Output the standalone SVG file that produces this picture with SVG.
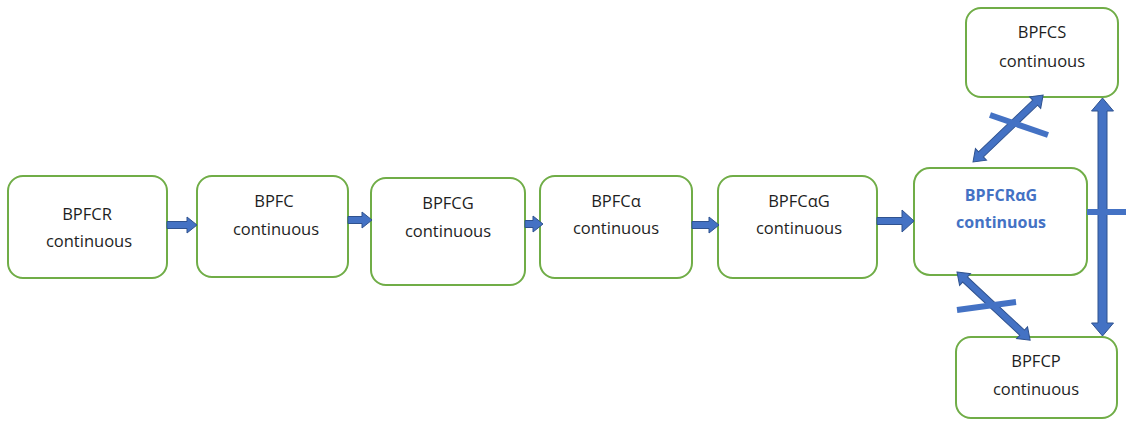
<svg xmlns="http://www.w3.org/2000/svg" width="1126" height="421" viewBox="0 0 1126 421">
<style>
.box{fill:#fff;stroke:#70AD47;stroke-width:2}
.t{font-family:"Open Sans","Liberation Sans",sans-serif;font-size:16.5px;fill:#1e1e1e;text-anchor:middle}
.tb{font-family:"Open Sans","Liberation Sans",sans-serif;font-size:16px;font-weight:bold;fill:#4472C4;text-anchor:middle}
.ar{fill:#4472C4;stroke:#2F528F;stroke-width:1}
.x{stroke:#4472C4;stroke-width:6;fill:none}
</style>
<rect width="1126" height="421" fill="#fff"/>
<g id="n1"><rect class="box" x="8" y="176" width="159" height="102" rx="15"/><text class="t" x="87" y="220">BPFCR</text><text class="t" x="89" y="247">continuous</text></g>
<g id="n2"><rect class="box" x="197" y="176" width="151" height="101" rx="15"/><text class="t" x="274" y="207">BPFC</text><text class="t" x="276" y="235">continuous</text></g>
<g id="n3"><rect class="box" x="371" y="178" width="154" height="107" rx="15"/><text class="t" x="448" y="209">BPFCG</text><text class="t" x="448" y="237">continuous</text></g>
<g id="n4"><rect class="box" x="540" y="176" width="152" height="102" rx="15"/><text class="t" x="616" y="207">BPFCα</text><text class="t" x="616" y="234">continuous</text></g>
<g id="n5"><rect class="box" x="718" y="176" width="159" height="102" rx="15"/><text class="t" x="799" y="207">BPFCαG</text><text class="t" x="799" y="234">continuous</text></g>
<g id="n6"><rect class="box" x="914" y="168" width="173" height="107" rx="16"/><text class="tb" x="1001" y="201">BPFCRαG</text><text class="tb" x="1001" y="228">continuous</text></g>
<g id="n7"><rect class="box" x="966" y="8" width="152" height="89" rx="15"/><text class="t" x="1042" y="38">BPFCS</text><text class="t" x="1042" y="67">continuous</text></g>
<g id="n8"><rect class="box" x="956" y="337" width="161" height="81" rx="15"/><text class="t" x="1036" y="367">BPFCP</text><text class="t" x="1036" y="395">continuous</text></g>
<g id="connectors">
<path class="ar" d="M167,221.5 H187 V217 L197,225 L187,233 V228.5 H167 Z"/>
<path class="ar" d="M348,216.5 H362 V212 L372,220 L362,228 V223.5 H348 Z"/>
<path class="ar" d="M525,220.5 H533 V216 L543,224 L533,232 V227.5 H525 Z"/>
<path class="ar" d="M692,221.5 H709 V217 L719,225 L709,233 V228.5 H692 Z"/>
<path class="ar" d="M877,217.5 H902 V210 L914,221 L902,232 V224.5 H877 Z"/>
<path class="ar" d="M1102.5,98 L1113.5,111 H1107 V323 H1113.5 L1102.5,336 L1091.5,323 H1098 V111 H1091.5 Z"/>
<line class="x" x1="1087" y1="212" x2="1126" y2="212"/>
<path class="ar" transform="translate(973,162) rotate(-43.7)" d="M0,0 L11,-8 V-3.5 H86 V-8 L97,0 L86,8 V3.5 H11 V8 Z"/>
<line class="x" x1="990" y1="115" x2="1048" y2="135"/>
<path class="ar" transform="translate(957,272) rotate(43)" d="M0,0 L11,-8 V-3.5 H89 V-8 L100,0 L89,8 V3.5 H11 V8 Z"/>
<line class="x" x1="957" y1="310" x2="1016" y2="302"/>
</g>
</svg>
